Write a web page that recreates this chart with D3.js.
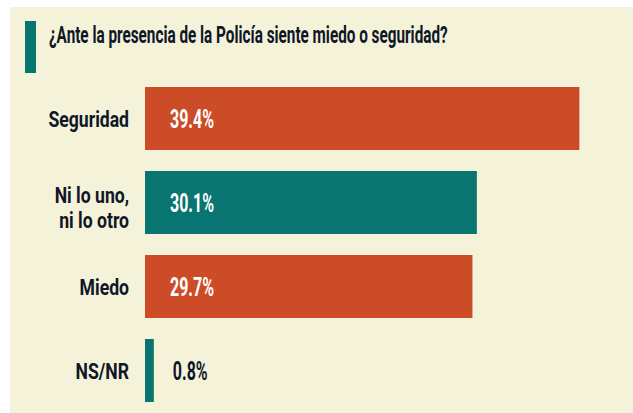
<!DOCTYPE html>
<html>
<head>
<meta charset="utf-8">
<script src="https://cdn.jsdelivr.net/npm/d3@7"></script>
<style>
  html, body { margin: 0; padding: 0; background: #fff; }
  svg text { font-family: Roboto, "Liberation Sans", sans-serif; font-weight: 700; }
</style>
</head>
<body>
<div id="chart"></div>
<script>
// data
const title = "¿Ante la presencia de la Policía siente miedo o seguridad?";
const categories = ["Seguridad", "Ni lo uno,\nni lo otro", "Miedo", "NS/NR"];
const values = [39.4, 30.1, 29.7, 0.8];

const width = 633, height = 413;
const orange = "#cd4c28", teal = "#087570", ink = "#0f1727";

const svg = d3.select("#chart").append("svg")
    .attr("width", width)
    .attr("height", height);

// panel
svg.append("rect")
    .attr("x", 10).attr("y", 7)
    .attr("width", width - 10).attr("height", height - 7)
    .attr("fill", "#f5f2da");

// title
svg.append("rect")
    .attr("x", 25).attr("y", 21)
    .attr("width", 11).attr("height", 52)
    .attr("fill", teal);
svg.append("text")
    .attr("transform", "translate(49,43) scale(0.665,1)")
    .attr("font-size", 23)
    .attr("fill", ink)
    .text(title);

const x = d3.scaleLinear().domain([0, 40]).range([145, 586]);
const y = d3.scaleBand().domain(categories).range([87, 402]).paddingInner(0.25).paddingOuter(0);
const color = d3.scaleOrdinal().domain(categories).range([orange, teal]);

const row = svg.selectAll("g.row")
    .data(categories.map((c, i) => ({ cat: c, val: values[i] })))
    .enter().append("g")
    .attr("class", "row")
    .attr("transform", d => `translate(0,${y(d.cat)})`);

row.append("rect")
    .attr("x", x(0))
    .attr("width", d => x(d.val) - x(0))
    .attr("height", y.bandwidth())
    .attr("fill", d => color(d.cat));

// category labels, right aligned, wrapped on \n
const mid = y.bandwidth() / 2;
row.append("text")
    .attr("transform", d => {
        const first = d.cat.includes("\n") ? mid : mid + 8;
        return `translate(129,${first}) scale(0.8,1)`;
    })
    .attr("text-anchor", "end")
    .attr("font-size", 22)
    .attr("fill", ink)
    .selectAll("tspan")
    .data(d => d.cat.split("\n"))
    .enter().append("tspan")
    .attr("x", 0)
    .attr("dy", (ln, k) => (k ? 26 : 0))
    .text(ln => ln);

// value labels
const inside = d => x(d.val) - x(0) > 60;
row.append("text")
    .attr("transform", d => {
        const tx = inside(d) ? x(0) + 25 : x(d.val) + 19;
        return `translate(${tx},${mid + 9}) scale(0.64,1)`;
    })
    .attr("font-size", 25)
    .attr("fill", d => (inside(d) ? "#fff" : ink))
    .text(d => d.val.toFixed(1) + "%");
</script>
</body>
</html>
